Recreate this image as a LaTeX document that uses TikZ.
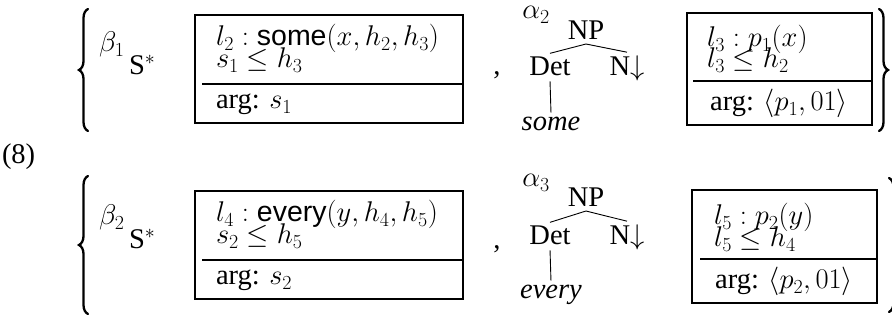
\RequirePackage{fix-cm}
\documentclass[tikz,border=0pt]{standalone}
\usepackage{fontspec}
\setmainfont{Liberation Serif}
\newfontfamily\helvfam{Liberation Sans}
\newcommand{\semop}[1]{\mbox{\helvfam #1}}
\usetikzlibrary{decorations.pathreplacing}
\begin{document}
\begin{tikzpicture}[x=1pt,y=-1pt,
  every node/.style={inner sep=0pt, outer sep=0pt},
  txt/.style={font=\fontsize{28.5}{30}\selectfont, anchor=base west},
  ctxt/.style={font=\fontsize{28.5}{30}\selectfont, anchor=base},
  treenode/.style={font=\fontsize{28.5}{30}\selectfont, anchor=base, inner sep=4pt},
  semframe/.style={draw, line width=2pt, rectangle},
  divider/.style={line width=1.6pt},
  branch/.style={line width=0.9pt},
  setbrace/.style={decorate, decoration={brace, amplitude=9pt, aspect=0.5}, line width=2.3pt, line cap=round}]
\useasboundingbox (0,0) rectangle (892,320);
\clip (0,0) rectangle (892,320);

% example number
\node[txt] (num) at (2,164) {(8)};

% ---------- first pair ----------
\coordinate (lb1b) at (88,131);
\coordinate (lb1t) at (88,9);
\draw[setbrace] (lb1b) -- (lb1t);
\coordinate (rb1t) at (879,9);
\coordinate (rb1b) at (879,131);
\draw[setbrace] (rb1t) -- (rb1b);

\node[txt] (beta1) at (99,52) {$\beta_1$};
\node[txt] (sstar1) at (129,75) {S$^*$};

\node[semframe, minimum width=268, minimum height=108] (box1) at (329,69) {};
\coordinate (d1a) at (202,84);
\coordinate (d1b) at (box1.east |- d1a);
\draw[divider] (d1a) -- (d1b);
\node[txt] (b1l1) at (216,46) {$l_2 : \semop{some}(x, h_2, h_3)$};
\node[txt] (b1l2) at (216,68) {$s_1 \leq h_3$};
\node[txt] (b1l3) at (216,109) {arg: $s_1$};

\node[ctxt] (comma1) at (497,75) {,};

\node[ctxt] (alpha2) at (536,19) {$\alpha_2$};
\node[treenode] (np1) at (586,40) {NP};
\node[treenode] (det1) at (550,76) {Det};
\node[treenode] (n1) at (627,76) {N$\downarrow$};
\node[treenode] (some1) at (551,131) {\itshape some};
\draw[branch] (np1.south) -- (det1.north);
\draw[branch] (np1.south) -- (n1.north);
\draw[branch, shorten >=1pt, shorten <=1pt] (det1.south) -- (some1.north);

\node[semframe, minimum width=185, minimum height=112] (box2) at (779.5,69) {};
\coordinate (d2a) at (693,81);
\coordinate (d2b) at (box2.east |- d2a);
\draw[divider] (d2a) -- (d2b);
\node[txt] (b2l1) at (707,47) {$l_3 : p_1(x)$};
\node[txt] (b2l2) at (707,68) {$l_3 \leq h_2$};
\node[ctxt] (b2l3) at (779,111) {arg: $\langle p_1, 01\rangle$};

% ---------- second pair ----------
\coordinate (lb2b) at (88,314);
\coordinate (lb2t) at (88,176);
\draw[setbrace] (lb2b) -- (lb2t);
\coordinate (rb2t) at (889,178);
\coordinate (rb2b) at (889,312);
\draw[setbrace] (rb2t) -- (rb2b);

\node[txt] (beta2) at (99,225) {$\beta_2$};
\node[txt] (sstar2) at (129,249) {S$^*$};

\node[semframe, minimum width=268, minimum height=108] (box3) at (329,245) {};
\coordinate (d3a) at (202,260);
\coordinate (d3b) at (box3.east |- d3a);
\draw[divider] (d3a) -- (d3b);
\node[txt] (b3l1) at (216,222) {$l_4 : \semop{every}(y, h_4, h_5)$};
\node[txt] (b3l2) at (216,244) {$s_2 \leq h_5$};
\node[txt] (b3l3) at (216,285) {arg: $s_2$};

\node[ctxt] (comma2) at (497,249) {,};

\node[ctxt] (alpha3) at (536,187) {$\alpha_3$};
\node[treenode] (np2) at (586,207) {NP};
\node[treenode] (det2) at (550,245) {Det};
\node[treenode] (n2) at (627,245) {N$\downarrow$};
\node[treenode] (every2) at (551,299) {\itshape every};
\draw[branch] (np2.south) -- (det2.north);
\draw[branch] (np2.south) -- (n2.north);
\draw[branch, shorten >=1pt, shorten <=1pt] (det2.south) -- (every2.north);

\node[semframe, minimum width=185, minimum height=113] (box4) at (784.5,247) {};
\coordinate (d4a) at (700,259);
\coordinate (d4b) at (box4.east |- d4a);
\draw[divider] (d4a) -- (d4b);
\node[txt] (b4l1) at (714,225) {$l_5 : p_2(y)$};
\node[txt] (b4l2) at (714,247) {$l_5 \leq h_4$};
\node[ctxt] (b4l3) at (784,289) {arg: $\langle p_2, 01\rangle$};
\end{tikzpicture}
\end{document}
